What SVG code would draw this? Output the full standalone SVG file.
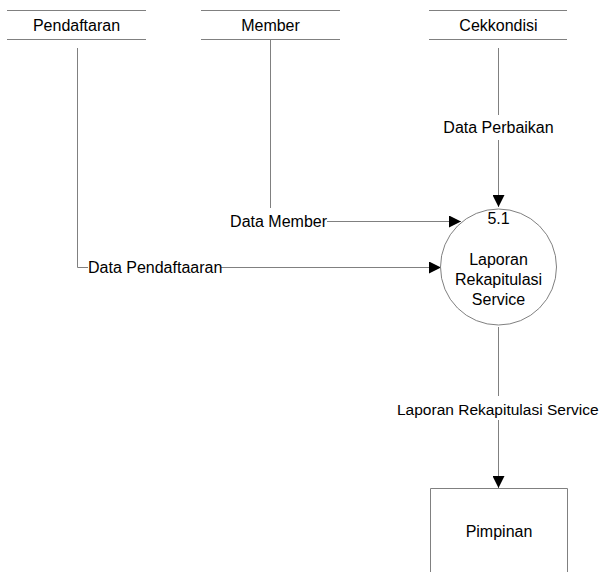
<svg xmlns="http://www.w3.org/2000/svg" width="600" height="572" viewBox="0 0 600 572">
  <defs>
    <marker id="arrow" viewBox="0 0 10 10" refX="10" refY="5" markerWidth="12" markerHeight="12" markerUnits="userSpaceOnUse" orient="auto">
      <path d="M0,0 L10,5 L0,10 Z" fill="#000"/>
    </marker>
    <style>
      text { font-family: "Liberation Sans", Arial, sans-serif; font-size: 16px; fill: #000; }
      .line { stroke: #808080; stroke-width: 1; fill: none; }
      .flow { stroke: #808080; stroke-width: 1; fill: none; marker-end: url(#arrow); }
      .shape { stroke: #808080; stroke-width: 1; fill: #fff; }
      .lbl { text-anchor: middle; }
    </style>
  </defs>
  <rect width="600" height="572" fill="#fff"/>

  <!-- Connectors -->
  <g id="connectors">
    <!-- Pendaftaran -> process -->
    <polyline class="line" points="77.5,48 77.5,267.5 88,267.5"/>
    <line class="flow" x1="221" y1="267.5" x2="441" y2="267.5"/>
    <text x="88" y="273">Data Pendaftaaran</text>
    <!-- Member -> process -->
    <line class="line" x1="270.5" y1="40" x2="270.5" y2="208"/>
    <line class="flow" x1="327" y1="221.5" x2="461" y2="221.5"/>
    <text x="327" y="227" text-anchor="end">Data Member</text>
    <!-- Cekkondisi -> process -->
    <line class="line" x1="498.5" y1="48" x2="498.5" y2="115"/>
    <line class="flow" x1="498.5" y1="140" x2="498.5" y2="207"/>
    <text class="lbl" x="498.5" y="133">Data Perbaikan</text>
    <!-- process -> Pimpinan -->
    <line class="line" x1="498.5" y1="327" x2="498.5" y2="396"/>
    <line class="flow" x1="498.5" y1="420" x2="498.5" y2="488"/>
    <text x="397" y="415" style="font-size:15.5px">Laporan Rekapitulasi Service</text>
  </g>

  <!-- Data stores -->
  <g id="store-pendaftaran">
    <line class="line" x1="7" y1="10.5" x2="146" y2="10.5"/>
    <line class="line" x1="7" y1="39.5" x2="146" y2="39.5"/>
    <text class="lbl" x="76.5" y="31">Pendaftaran</text>
  </g>
  <g id="store-member">
    <line class="line" x1="201" y1="10.5" x2="340" y2="10.5"/>
    <line class="line" x1="201" y1="39.5" x2="340" y2="39.5"/>
    <text class="lbl" x="270.5" y="31">Member</text>
  </g>
  <g id="store-cekkondisi">
    <line class="line" x1="429" y1="10.5" x2="567" y2="10.5"/>
    <line class="line" x1="429" y1="39.5" x2="567" y2="39.5"/>
    <text class="lbl" x="498.5" y="31">Cekkondisi</text>
  </g>

  <!-- Process -->
  <g id="process-5-1">
    <circle class="shape" cx="498.5" cy="267" r="58"/>
    <text class="lbl" x="498.5" y="224">5.1</text>
    <text class="lbl" x="498.5" y="265">Laporan</text>
    <text class="lbl" x="498.5" y="285">Rekapitulasi</text>
    <text class="lbl" x="498.5" y="305">Service</text>
  </g>

  <!-- External entity -->
  <g id="entity-pimpinan">
    <path class="shape" d="M430.5,573 L430.5,488.5 L567.5,488.5 L567.5,573"/>
    <text class="lbl" x="499" y="537">Pimpinan</text>
  </g>
</svg>
